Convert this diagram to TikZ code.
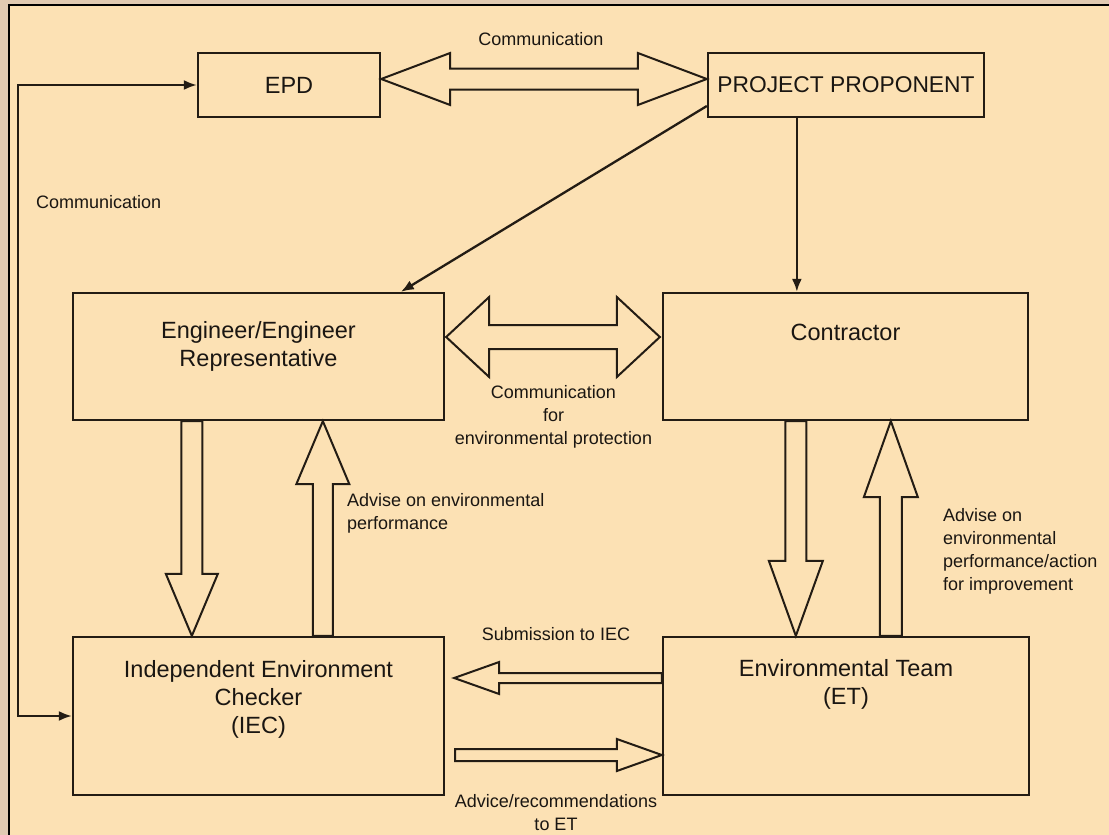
\documentclass[tikz,border=0pt]{standalone}
\usepackage{fontspec}
\setmainfont{Liberation Sans}
\usetikzlibrary{arrows.meta,calc}

\definecolor{bgtan}{HTML}{E1CAB2}
\definecolor{bgpeach}{HTML}{FCE1B4}
\definecolor{inkline}{HTML}{231C14}
\definecolor{inktext}{HTML}{1A1612}

% hollow block arrow: tail, tip, shaft half width, head half width, head length
\newcommand{\hollowarrow}[5]{%
  \coordinate (hb) at ($(#2)!#5pt!(#1)$);
  \draw[blockarrow] ($(#1)!#3pt!90:(#2)$) -- ($(hb)!#3pt!90:(#2)$)
    -- ($(hb)!#4pt!90:(#2)$) -- (#2) -- ($(hb)!#4pt!-90:(#2)$)
    -- ($(hb)!#3pt!-90:(#2)$) -- ($(#1)!#3pt!-90:(#2)$) -- cycle;}
% hollow block arrow with two heads: tip, tip, shaft half width, head half width, head length
\newcommand{\hollowdarrow}[5]{%
  \coordinate (hba) at ($(#1)!#5pt!(#2)$);
  \coordinate (hbb) at ($(#2)!#5pt!(#1)$);
  \draw[blockarrow] (#1) -- ($(hba)!#4pt!90:(#2)$) -- ($(hba)!#3pt!90:(#2)$)
    -- ($(hbb)!#3pt!-90:(#1)$) -- ($(hbb)!#4pt!-90:(#1)$) -- (#2)
    -- ($(hbb)!#4pt!90:(#1)$) -- ($(hbb)!#3pt!90:(#1)$)
    -- ($(hba)!#3pt!-90:(#2)$) -- ($(hba)!#4pt!-90:(#2)$) -- cycle;}

\begin{document}
\begin{tikzpicture}[x=1pt,y=1pt,
    box/.style={draw=inkline,line width=2.3pt,inner sep=0pt,align=center,text=inktext,
      font=\fontsize{23.5}{28}\selectfont},
    note/.style={inner sep=0pt,text=inktext,font=\fontsize{18}{23}\selectfont},
    blockarrow/.style={draw=inkline,fill=bgpeach,line width=2pt,line join=miter},
    thinarr/.style={draw=inkline,line width=2.3pt},
    >={Latex[length=13pt,width=10pt]}]
  \useasboundingbox (0,0) rectangle (1109,-835);
  \fill[bgtan] (0,0) rectangle (1109,-835);
  \fill[bgpeach] (9,-5) rectangle (1109,-835);
  \draw[line width=2.5pt,black] (9,-835) -- (9,-5) -- (1109,-5);

  % boxes
  \node[box,minimum width=182pt,minimum height=64pt] (epd) at (289,-85) {EPD};
  \node[box,minimum width=276pt,minimum height=64pt,font=\fontsize{22.8}{28}\selectfont] (pp) at (846,-85) {PROJECT PROPONENT};
  \node[box,minimum width=371pt,minimum height=127pt,text depth=25pt] (eng) at (258.5,-356.5) {Engineer/Engineer\\Representative};
  \node[box,minimum width=365pt,minimum height=127pt,text depth=49pt] (cont) at (845.5,-356.5) {Contractor};
  \node[box,minimum width=371pt,minimum height=158pt,text depth=38pt] (iec) at (258.5,-716) {Independent Environment\\Checker\\(IEC)};
  \node[box,minimum width=366pt,minimum height=158pt,text depth=68pt] (et) at (846,-716) {Environmental Team\\(ET)};

  % plain arrows
  \draw[thinarr,->] ($(pp.south west)+(90,0)$) -- ($(cont.north west)+(135,0)$);
  \draw[thinarr,->] ($(pp.west)+(0,-21)$) -- ($(eng.north west)+(329,0)$);
  \coordinate (loopx) at (18,-400);
  \draw[thinarr,<->] (epd.west) -| (loopx) |- (iec.west);

  % block arrows
  \coordinate (epdtip) at ($(epd.east)+(0,6)$);
  \coordinate (pptip) at ($(pp.west)+(0,6)$);
  \hollowdarrow{epdtip}{pptip}{10.5}{26}{69}
  \coordinate (engtip) at ($(eng.east)+(1,19.5)$);
  \coordinate (conttip) at ($(cont.west)+(-2,19.5)$);
  \hollowdarrow{engtip}{conttip}{12}{40}{43}

  \coordinate (engdn) at ($(eng.south west)+(120,0)$);
  \coordinate (iecin) at ($(iec.north west)+(120,0)$);
  \hollowarrow{engdn}{iecin}{10.5}{26}{62}
  \coordinate (iecup) at ($(iec.north west)+(251,0)$);
  \coordinate (engin) at ($(eng.south west)+(251,0)$);
  \hollowarrow{iecup}{engin}{10}{26.5}{63}

  \coordinate (contdn) at ($(cont.south west)+(134,0)$);
  \coordinate (etin) at ($(et.north west)+(134,0)$);
  \hollowarrow{contdn}{etin}{10.5}{27}{75}
  \coordinate (etup) at ($(et.north west)+(229,0)$);
  \coordinate (contin) at ($(cont.south west)+(229,0)$);
  \hollowarrow{etup}{contin}{11}{27}{76}

  \coordinate (etout) at ($(et.west)+(0,38)$);
  \coordinate (iecnear) at ($(iec.east)+(9,38)$);
  \hollowarrow{etout}{iecnear}{5}{16}{45}
  \coordinate (iecout) at ($(iec.east)+(10,-39)$);
  \coordinate (etnear) at ($(et.west)+(0,-39)$);
  \hollowarrow{iecout}{etnear}{6}{16}{45}

  % labels
  \node[note] (commtop) at (541,-39) {Communication};
  \node[note,anchor=west] (commleft) at (36,-202) {Communication};
  \node[note,align=center] (commenv) at ($(eng.east)!0.5!(cont.west)+(0,-60)$) {Communication\\for\\environmental protection};
  \node[note,align=left,anchor=west] (adviseiec) at (347,-513) {Advise on environmental\\performance};
  \node[note,align=left,anchor=west] (adviseet) at (943,-551) {Advise on\\environmental\\performance/action\\for improvement};
  \node[note] (submit) at (556,-634) {Submission to IEC};
  \node[note,align=center] (advice) at (556,-813) {Advice/recommendations\\to ET};
\end{tikzpicture}
\end{document}
